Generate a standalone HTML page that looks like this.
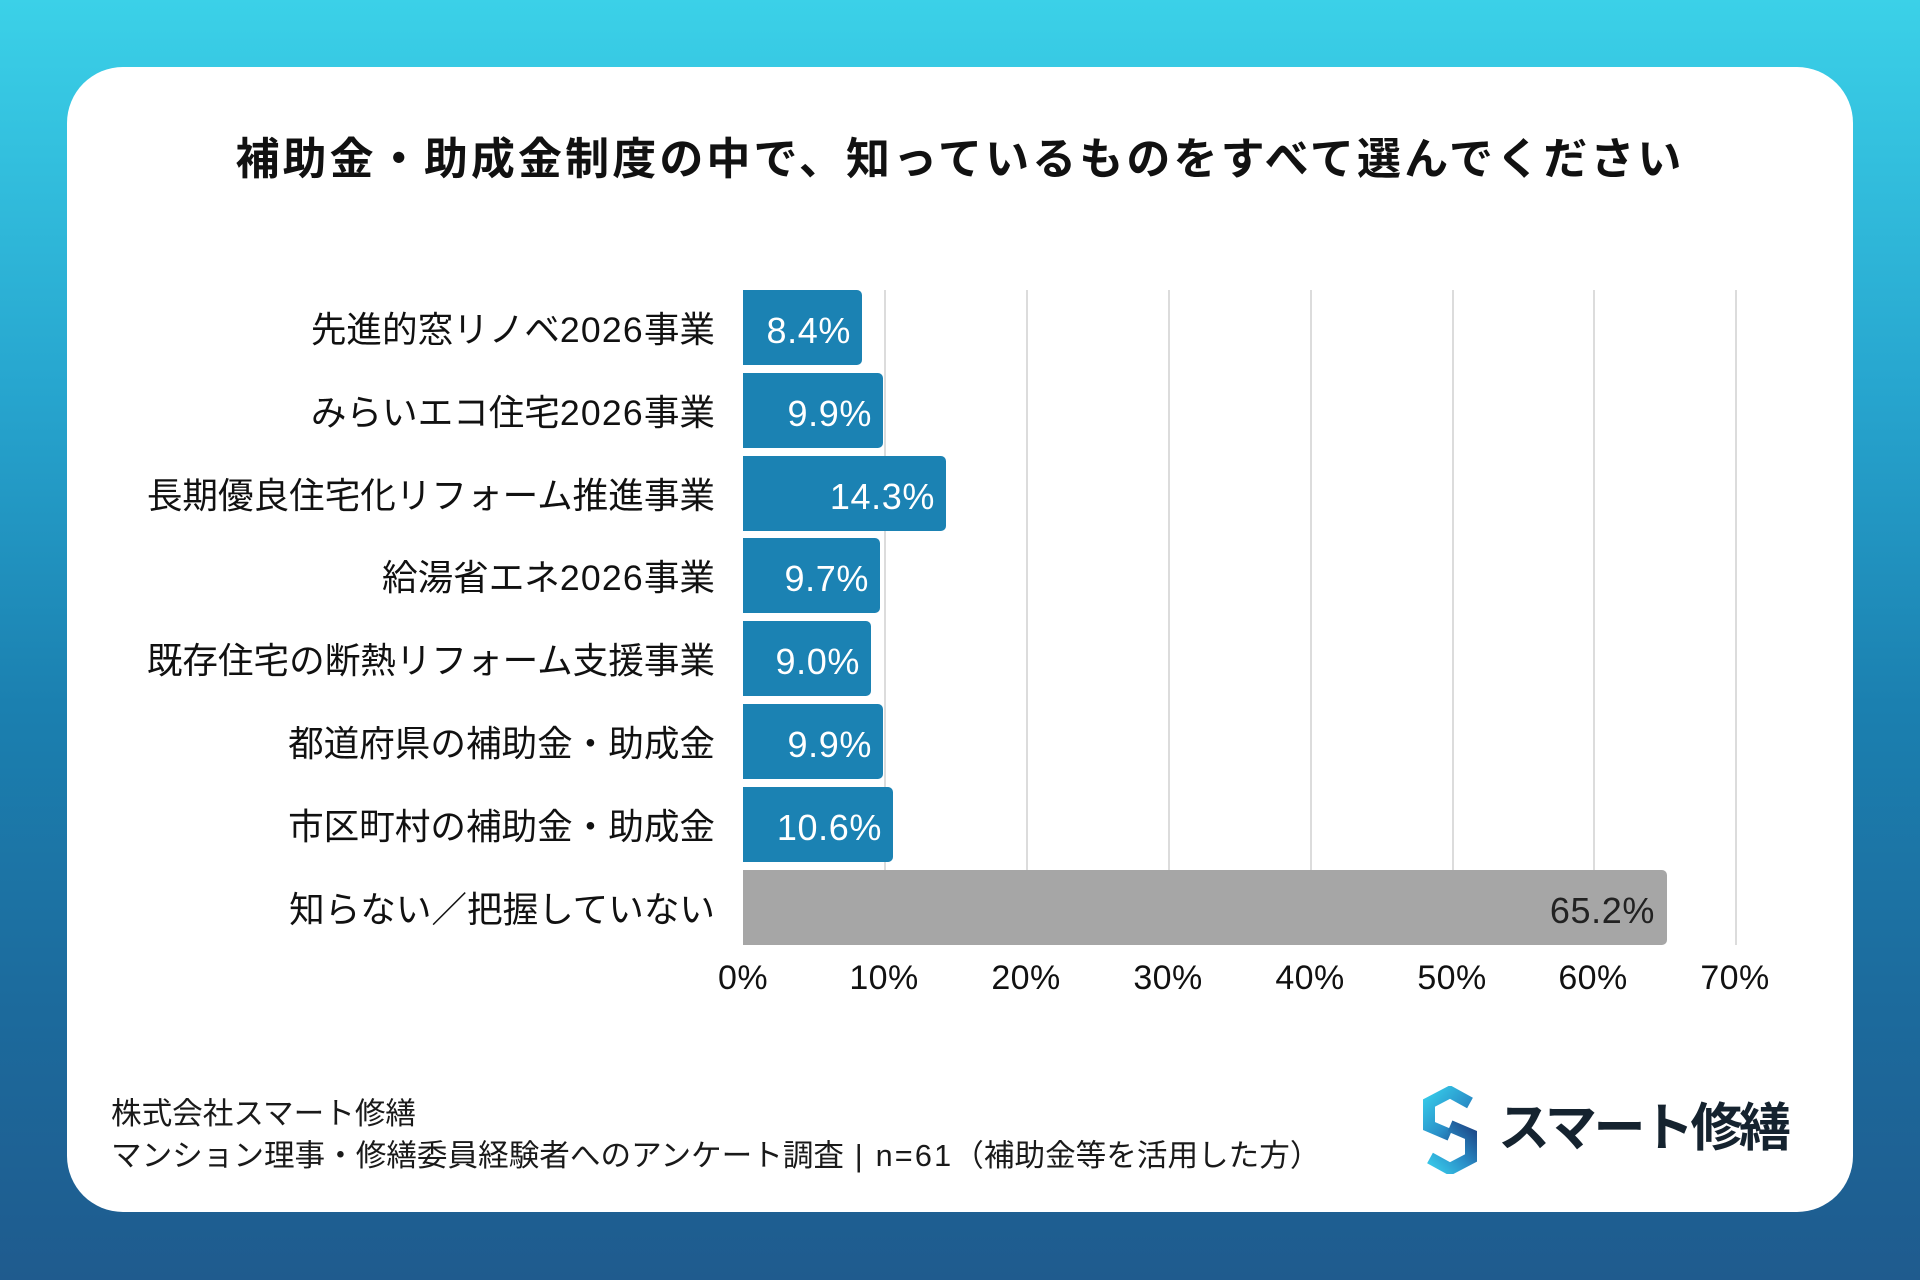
<!DOCTYPE html>
<html lang="ja">
<head>
<meta charset="utf-8">
<style>
  html, body { margin: 0; padding: 0; }
  body {
    width: 1920px; height: 1280px; position: relative; overflow: hidden;
    background: linear-gradient(180deg, #3bd1e8 0%, #27a6cf 30%, #1b80b0 55%, #1c6b9d 78%, #1f5b8e 100%);
    font-family: "Liberation Sans", "Noto Sans CJK JP", sans-serif;
  }
  .card {
    position: absolute; left: 67px; top: 67px; width: 1786px; height: 1145px;
    background: #fff; border-radius: 56px;
  }
  .abs { position: absolute; }
  .title {
    position: absolute; left: 0; top: 138px; width: 1920px; text-align: center;
    font-size: 44px; line-height: 44px; font-weight: 700; color: #111;
    letter-spacing: 3.1px;
  }
  .grid { position: absolute; top: 290px; width: 1.5px; height: 655px; background: #dcdcdc; }
  .bar { position: absolute; left: 743px; height: 75px; background: #1b82b3; border-radius: 0 5px 5px 0; }
  .bar.gray { background: #a6a6a6; }
  .val {
    position: absolute; right: 11px; top: 3px; height: 75px; line-height: 75px;
    font-size: 36px; letter-spacing: 0.6px; color: #fff; white-space: nowrap;
  }
  .bar.gray .val { color: #222; right: 12px; }
  .cat {
    position: absolute; right: 1205px; height: 75px; line-height: 75px; margin-top: 3px;
    font-size: 35.6px; color: #111; white-space: nowrap; text-align: right;
  }
  .cat .d { letter-spacing: 1.2px; }
  .tick {
    position: absolute; top: 958px; width: 120px; margin-left: -60px; text-align: center;
    font-size: 34px; letter-spacing: 0.4px; line-height: 40px; color: #111;
  }
  .foot { position: absolute; left: 111px; font-size: 30.6px; line-height: 40px; color: #1a1a1a; white-space: nowrap; }
  .foot .n { letter-spacing: 2.2px; }
  .logo-text {
    position: absolute; left: 1498px; top: 1099px; font-size: 52px; line-height: 60px;
    font-weight: 700; color: #15232f; letter-spacing: -3.5px; white-space: nowrap;
  }
</style>
</head>
<body>
  <div class="card"></div>

  <div class="title">補助金・助成金制度の中で、知っているものをすべて選んでください</div>

  <!-- gridlines -->
  <div class="grid" style="left:884px"></div>
  <div class="grid" style="left:1026px"></div>
  <div class="grid" style="left:1168px"></div>
  <div class="grid" style="left:1310px"></div>
  <div class="grid" style="left:1452px"></div>
  <div class="grid" style="left:1593px"></div>
  <div class="grid" style="left:1735px"></div>

  <!-- category labels -->
  <div class="cat" style="top:290px">先進的窓リノベ<span class="d">2026</span>事業</div>
  <div class="cat" style="top:373px">みらいエコ住宅<span class="d">2026</span>事業</div>
  <div class="cat" style="top:456px">長期優良住宅化リフォーム推進事業</div>
  <div class="cat" style="top:538px">給湯省エネ<span class="d">2026</span>事業</div>
  <div class="cat" style="top:621px">既存住宅の断熱リフォーム支援事業</div>
  <div class="cat" style="top:704px">都道府県の補助金・助成金</div>
  <div class="cat" style="top:787px">市区町村の補助金・助成金</div>
  <div class="cat" style="top:870px">知らない／把握していない</div>

  <!-- bars -->
  <div class="bar" style="top:290px;width:119px"><span class="val">8.4%</span></div>
  <div class="bar" style="top:373px;width:140px"><span class="val">9.9%</span></div>
  <div class="bar" style="top:456px;width:203px"><span class="val">14.3%</span></div>
  <div class="bar" style="top:538px;width:137px"><span class="val">9.7%</span></div>
  <div class="bar" style="top:621px;width:128px"><span class="val">9.0%</span></div>
  <div class="bar" style="top:704px;width:140px"><span class="val">9.9%</span></div>
  <div class="bar" style="top:787px;width:150px"><span class="val">10.6%</span></div>
  <div class="bar gray" style="top:870px;width:924px"><span class="val">65.2%</span></div>

  <!-- ticks -->
  <div class="tick" style="left:743px">0%</div>
  <div class="tick" style="left:884px">10%</div>
  <div class="tick" style="left:1026px">20%</div>
  <div class="tick" style="left:1168px">30%</div>
  <div class="tick" style="left:1310px">40%</div>
  <div class="tick" style="left:1452px">50%</div>
  <div class="tick" style="left:1593px">60%</div>
  <div class="tick" style="left:1735px">70%</div>

  <!-- footer -->
  <div class="foot" style="top:1094px">株式会社スマート修繕</div>
  <div class="foot" style="top:1136px">マンション理事・修繕委員経験者へのアンケート調査<span class="n"> | n=61</span>（補助金等を活用した方）</div>

  <!-- logo -->
  <svg class="abs" style="left:1420px;top:1086px" width="60" height="88" viewBox="0 0 60 88">
    <defs>
      <linearGradient id="lg1" x1="0" y1="0" x2="1" y2="1">
        <stop offset="0" stop-color="#35c9e8"/>
        <stop offset="0.6" stop-color="#2a8fc8"/>
        <stop offset="1" stop-color="#1d4f8e"/>
      </linearGradient>
      <linearGradient id="lg2" x1="1" y1="0" x2="0" y2="1">
        <stop offset="0" stop-color="#1d4a8a"/>
        <stop offset="0.5" stop-color="#2a8fc8"/>
        <stop offset="1" stop-color="#38cbea"/>
      </linearGradient>
    </defs>
    <path d="M50 17 L30 6 L9 17 L9 40 L30 49" fill="none" stroke="url(#lg1)" stroke-width="12" stroke-linejoin="miter"/>
    <path d="M30 40 L51 49 L51 72 L30 83 L10 72" fill="none" stroke="url(#lg2)" stroke-width="12" stroke-linejoin="miter"/>
  </svg>
  <div class="logo-text">スマート修繕</div>
</body>
</html>
